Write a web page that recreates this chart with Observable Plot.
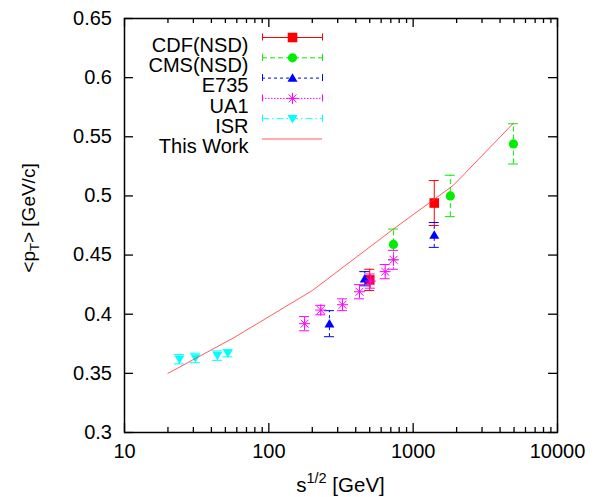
<!DOCTYPE html>
<html><head><meta charset="utf-8">
<script src="https://cdn.jsdelivr.net/npm/d3@7"></script>
<script src="https://cdn.jsdelivr.net/npm/@observablehq/plot@0.6"></script>
<style>body{margin:0;background:#fff}</style>
</head><body><div id="chart"></div>
<script>
// ---- data ----
const cdfX = [500, 1400];
const cdfY = [0.429, 0.494];
const cdfErr = [0.009, 0.019];

const cmsX = [730, 1810, 4950];
const cmsY = [0.459, 0.500, 0.544];
const cmsErr = [0.013, 0.0175, 0.017];

const e735X = [263, 462, 1400];
const e735Y = [0.392, 0.430, 0.467];
const e735Err = [0.011, 0.006, 0.0105];

const ua1X = [177, 229, 324, 425, 505, 640, 731];
const ua1Y = [0.392, 0.4035, 0.408, 0.419, 0.428, 0.436, 0.446];
const ua1Err = [0.006, 0.004, 0.005, 0.006, 0.006, 0.006, 0.008];

const isrX = [24, 31, 44, 52];
const isrY = [0.362, 0.363, 0.365, 0.367];
const isrErr = [0.004, 0.004, 0.004, 0.003];

const workX = [20, 57, 200, 730, 1900, 4950];
const workY = [0.350, 0.380, 0.420, 0.472, 0.509, 0.5615];

const xMajorTicks = [10, 100, 1000, 10000];
const xMinorTicks = [20, 30, 40, 50, 60, 70, 80, 90, 200, 300, 400, 500, 600, 700, 800, 900, 2000, 3000, 4000, 5000, 6000, 7000, 8000, 9000];
const yTicks = [0.3, 0.35, 0.4, 0.45, 0.5, 0.55, 0.6, 0.65];

const seriesNames = ["CDF(NSD)", "CMS(NSD)", "E735", "UA1", "ISR", "This Work"];

// ---- layout ----
const W = 600, H = 497, mL = 124, mR = 43, mT = 18, mB = 65;
const frameW = W - mL - mR, frameH = H - mT - mB;
const cx = (mL + W - mR) / 2, cy = (mT + H - mB) / 2;
const FS = 20;

const rows = (xs, ys, es) => xs.map((x, i) => ({x, y: ys[i], lo: ys[i] - es[i], hi: ys[i] + es[i]}));

// custom symbols
const symSquare = {draw(c, size) { const r = Math.sqrt(size / Math.PI); c.rect(-r, -r, 2 * r, 2 * r); }};
const symUp = {draw(c, size) { const r = Math.sqrt(size / Math.PI); c.moveTo(0, -0.95 * r); c.lineTo(r, 0.75 * r); c.lineTo(-r, 0.75 * r); c.closePath(); }};
const symDown = {draw(c, size) { const r = Math.sqrt(size / Math.PI); c.moveTo(-r, -0.75 * r); c.lineTo(r, -0.75 * r); c.lineTo(0, 0.95 * r); c.closePath(); }};
const symStar = {draw(c, size) { const r = Math.sqrt(size / Math.PI), d = r * 0.72;
  c.moveTo(0, -r); c.lineTo(0, r); c.moveTo(-r, 0); c.lineTo(r, 0);
  c.moveTo(-d, -d); c.lineTo(d, d); c.moveTo(-d, d); c.lineTo(d, -d); }};

const series = [
  {name: seriesNames[0], data: rows(cdfX, cdfY, cdfErr), color: "#ff0000", dash: null, symbol: symSquare, r: 4.8, filled: true},
  {name: seriesNames[1], data: rows(cmsX, cmsY, cmsErr), color: "#00ee00", dash: "5,3", symbol: "circle", r: 4.6, filled: true},
  {name: seriesNames[2], data: rows(e735X, e735Y, e735Err), color: "#0000ff", dash: "3,3", symbol: symUp, r: 5, filled: true},
  {name: seriesNames[3], data: rows(ua1X, ua1Y, ua1Err), color: "#ff00ff", dash: "1.5,1.5", symbol: symStar, r: 5.5, filled: false},
  {name: seriesNames[4], data: rows(isrX, isrY, isrErr), color: "#00ffff", dash: "7,3,1.5,3", symbol: symDown, r: 5, filled: true}
];
const work = workX.map((x, i) => ({x, y: workY[i]}));
const workColor = "#ff3333";

const marks = [];
// ticks (inward, mirrored)
marks.push(
  Plot.tickX(xMajorTicks, {x: d => d, insetTop: frameH - 9, stroke: "#000", strokeWidth: 1.3}),
  Plot.tickX(xMajorTicks, {x: d => d, insetBottom: frameH - 9, stroke: "#000", strokeWidth: 1.3}),
  Plot.tickX(xMinorTicks, {x: d => d, insetTop: frameH - 5, stroke: "#000", strokeWidth: 1.3}),
  Plot.tickX(xMinorTicks, {x: d => d, insetBottom: frameH - 5, stroke: "#000", strokeWidth: 1.3}),
  Plot.tickY(yTicks, {y: d => d, insetRight: frameW - 9, stroke: "#000", strokeWidth: 1.3}),
  Plot.tickY(yTicks, {y: d => d, insetLeft: frameW - 9, stroke: "#000", strokeWidth: 1.3})
);

// data series
for (const s of series) {
  marks.push(
    Plot.ruleX(s.data, {x: "x", y1: "lo", y2: "hi", stroke: s.color, strokeWidth: 1, strokeDasharray: s.dash}),
    Plot.ruleY(s.data, {y: "hi", x1: "x", x2: "x", insetLeft: -5, insetRight: -5, stroke: s.color, strokeWidth: 1}),
    Plot.ruleY(s.data, {y: "lo", x1: "x", x2: "x", insetLeft: -5, insetRight: -5, stroke: s.color, strokeWidth: 1}),
    Plot.dot(s.data, {x: "x", y: "y", symbol: s.symbol, r: s.r,
      fill: s.filled ? s.color : "none", stroke: s.filled ? "none" : s.color, strokeWidth: 1})
  );
}
marks.push(Plot.line(work, {x: "x", y: "y", stroke: workColor, strokeWidth: 1, strokeOpacity: 0.8}));

// legend (inside frame, top-left)
const legendRows = [...series, {name: seriesNames[5], color: workColor, dash: null, symbol: null}];
legendRows.forEach((s, i) => {
  const yi = 37 + 20.3 * i;
  marks.push(
    Plot.text([s.name], {x: null, y: null, text: d => d, frameAnchor: "top-left", dx: 248 - mL, dy: yi - mT,
      textAnchor: "end", fontSize: FS, fill: "#000"}),
    Plot.ruleY([s.name], {y: null, insetLeft: 262 - mL, insetRight: (W - mR) - 322, dy: yi - cy,
      stroke: s.color, strokeWidth: 1, strokeDasharray: s.dash, strokeOpacity: s.symbol ? 1 : 0.8})
  );
  if (s.symbol) {
    for (const px of [262, 322]) {
      marks.push(Plot.ruleX([s.name], {x: null, insetTop: yi - 3.5 - mT, insetBottom: (H - mB) - (yi + 3.5),
        dx: px - cx, stroke: s.color, strokeWidth: 1}));
    }
    marks.push(Plot.dot([s.name], {x: null, y: null, frameAnchor: "top-left", dx: 292 - mL, dy: yi - mT,
      symbol: s.symbol, r: s.r, fill: s.filled ? s.color : "none", stroke: s.filled ? "none" : s.color, strokeWidth: 1}));
  }
});

marks.push(Plot.frame({stroke: "#000", strokeWidth: 1.5}));
marks.push(
  Plot.axisX({ticks: xMajorTicks, tickFormat: d => String(d), tickSize: 0, tickPadding: 11, label: null, fontSize: FS}),
  Plot.axisY({ticks: yTicks, tickFormat: d => String(d), tickSize: 0, tickPadding: 12.5, label: null, fontSize: FS})
);

const plot = Plot.plot({
  width: W, height: H,
  marginLeft: mL, marginRight: mR, marginTop: mT, marginBottom: mB,
  x: {type: "log", domain: [10, 10000]},
  y: {domain: [0.3, 0.65]},
  style: {fontFamily: "'Liberation Sans', Arial, sans-serif", fontSize: FS + "px", background: "#fff", color: "#000"},
  marks
});

// axis titles with super/subscripts
const svg = d3.select(plot);
const xl = svg.append("text").attr("x", cx).attr("y", 492).attr("text-anchor", "middle")
  .attr("font-size", 20.5).attr("fill", "#000");
xl.append("tspan").text("s");
xl.append("tspan").attr("font-size", 14.5).attr("dy", -9).text("1/2");
xl.append("tspan").attr("dy", 9).text(" [GeV]");

const yl = svg.append("text").attr("transform", "translate(35,218) rotate(-90)").attr("text-anchor", "middle")
  .attr("font-size", 19).attr("fill", "#000");
yl.append("tspan").text("<p");
yl.append("tspan").attr("font-size", 13).attr("dy", 4).text("T");
yl.append("tspan").attr("dy", -4).text("> [GeV/c]");

document.getElementById("chart").appendChild(plot);
</script>
</body></html>
